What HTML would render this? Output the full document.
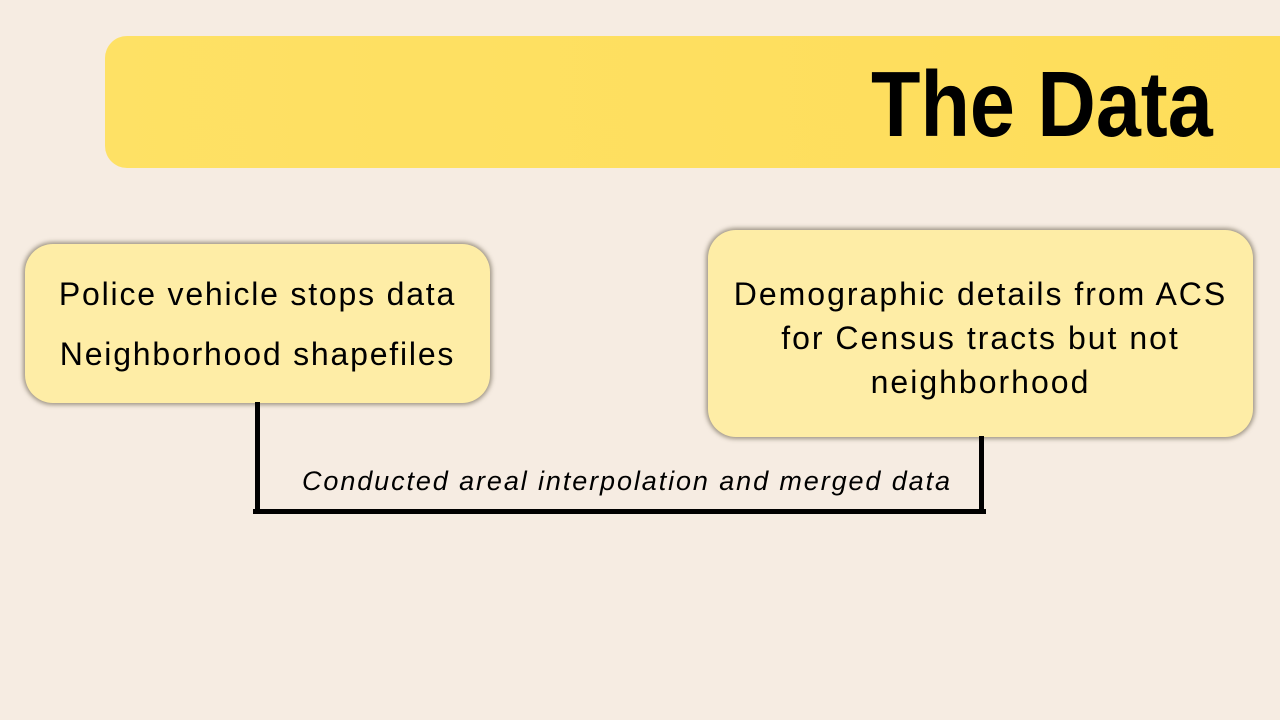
<!DOCTYPE html>
<html><head><meta charset="utf-8"><style>
body{margin:0;width:1280px;height:720px;background:#F6ECE2;position:relative;overflow:hidden;font-family:"Liberation Sans",sans-serif;}
.banner{position:absolute;left:105px;top:36px;width:1200px;height:132px;border-radius:22px;background:linear-gradient(90deg,#FEE165,#FEDD5A);}
.title{position:absolute;right:67px;top:58px;font-size:93px;font-weight:bold;color:#000;line-height:93px;transform:scaleX(0.87);transform-origin:right center;white-space:nowrap;}
.box{position:absolute;background:#FEEDA6;border-radius:28px;box-shadow:0 0 4px 2px rgba(90,80,60,0.55);color:#000;font-size:32px;text-align:center;}
.ln{position:absolute;background:#000;}
.lbl{position:absolute;left:302px;top:466px;font-size:27px;font-style:italic;color:#000;white-space:nowrap;letter-spacing:1.9px;}
</style></head><body>
<div class="banner"></div>
<div class="title">The Data</div>
<div class="box" style="left:25px;top:244px;width:465px;height:159px;letter-spacing:1.8px;">
<div style="position:absolute;left:0;right:0;top:32px;line-height:36px;">Police vehicle stops data</div>
<div style="position:absolute;left:0;right:0;top:92px;line-height:36px;">Neighborhood shapefiles</div>
</div>
<div class="box" style="left:708px;top:230px;width:545px;height:207px;line-height:44px;letter-spacing:2px;">
<div style="position:absolute;left:0;right:0;top:42px;">Demographic details from ACS<br>for Census tracts but not<br>neighborhood</div>
</div>
<div class="ln" style="left:255px;top:402px;width:5px;height:112px;"></div>
<div class="ln" style="left:253px;top:509px;width:733px;height:5px;"></div>
<div class="ln" style="left:979px;top:436px;width:5px;height:78px;"></div>
<div class="lbl">Conducted areal interpolation and merged data</div>
</body></html>
